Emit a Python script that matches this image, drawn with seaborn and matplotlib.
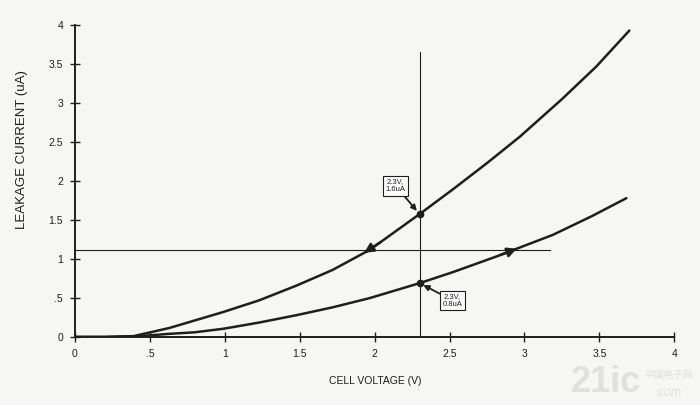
import numpy as np
import pandas as pd
import seaborn as sns
import matplotlib.pyplot as plt

# curve readings (cell voltage V, leakage current uA)
upper_v = [0.0, 0.2, 0.39, 0.63, 0.99, 1.23, 1.48, 1.72, 1.97, 2.31, 2.52, 2.75,
           2.97, 3.25, 3.48, 3.70]
upper_i = [0.0, 0.0, 0.01, 0.115, 0.32, 0.47, 0.66, 0.86, 1.12, 1.59, 1.89, 2.23,
           2.57, 3.05, 3.47, 3.93]
lower_v = [0.0, 0.2, 0.43, 0.63, 0.8, 0.99, 1.23, 1.48, 1.72, 1.97, 2.30, 2.52,
           2.81, 3.19, 3.45, 3.68]
lower_i = [0.0, 0.0, 0.01, 0.04, 0.06, 0.105, 0.185, 0.28, 0.38, 0.50, 0.69, 0.83,
           1.03, 1.31, 1.55, 1.78]

h_level = 1.11      # horizontal reference line
h_end = 3.17
v_level = 2.3       # vertical reference line
v_top = 3.65

upper_label = "2.3V,\n1.6uA"
lower_label = "2.3V,\n0.8uA"

x_ticks = [0, 0.5, 1, 1.5, 2, 2.5, 3, 3.5, 4]
x_labels = ["0", ".5", "1", "1.5", "2", "2.5", "3", "3.5", "4"]
y_ticks = [0, 0.5, 1, 1.5, 2, 2.5, 3, 3.5, 4]
y_labels = ["0", ".5", "1", "1.5", "2", "2.5", "3", "3.5", "4"]

df = pd.concat([
    pd.DataFrame({"V": upper_v, "I": upper_i, "curve": "upper"}),
    pd.DataFrame({"V": lower_v, "I": lower_i, "curve": "lower"}),
])

sns.set_style("ticks")
plt.rcParams["font.family"] = ["Liberation Sans", "Noto Sans CJK SC", "DejaVu Sans"]
ink = "#1e1e1e"
paper = "#f6f6f4"

fig = plt.figure(figsize=(7, 4.05), dpi=100, facecolor=paper)
ax = fig.add_axes([0.107, 0.168, 0.867, 0.770], facecolor=paper)

sns.lineplot(data=df, x="V", y="I", units="curve", estimator=None, color=ink,
             lw=1.8, ax=ax, sort=False)
for ln in ax.lines:
    ln.set_solid_joinstyle("round")

ax.plot([0, h_end], [h_level, h_level], color=ink, lw=0.8)
ax.plot([v_level, v_level], [0, v_top], color=ink, lw=0.8)

# marked points at 2.3 V
up_pt = np.interp(v_level, upper_v, upper_i)
lo_pt = np.interp(v_level, lower_v, lower_i)
ax.plot([v_level, v_level], [up_pt, lo_pt], "o", color=ink, ms=4.5, ls="none")

# arrowheads where the horizontal line meets the curves
def cross(vs, is_):
    return np.interp(h_level, is_, vs)

head = dict(arrowstyle="-|>,head_length=0.55,head_width=0.28", color=ink,
            lw=1.8, shrinkA=0, shrinkB=0)
tip = cross(upper_v, upper_i)
ax.annotate("", xy=(tip - 0.03, np.interp(tip - 0.03, upper_v, upper_i)),
            xytext=(tip + 0.08, np.interp(tip + 0.08, upper_v, upper_i)),
            arrowprops=head)
tip = cross(lower_v, lower_i)
ax.annotate("", xy=(tip + 0.03, np.interp(tip + 0.03, lower_v, lower_i)),
            xytext=(tip - 0.08, np.interp(tip - 0.08, lower_v, lower_i)),
            arrowprops=head)

box = dict(boxstyle="square,pad=0.3", fc="white", ec=ink, lw=0.8)
ptr = dict(arrowstyle="-|>,head_length=0.6,head_width=0.3", color=ink, lw=1.3,
           shrinkA=0, shrinkB=3)
ax.annotate(upper_label, xy=(v_level, up_pt), xytext=(2.14, 1.94),
            fontsize=5.5, ha="center", va="center", bbox=box, arrowprops=ptr,
            color=ink)
ax.annotate(lower_label, xy=(v_level, lo_pt), xytext=(2.52, 0.47),
            fontsize=5.5, ha="center", va="center", bbox=box, arrowprops=ptr,
            color=ink)

ax.set_xlim(0, 4.05)
ax.set_ylim(0, 4.0)
ax.set_xticks(x_ticks, x_labels)
ax.set_yticks(y_ticks, y_labels)
ax.tick_params(direction="inout", length=7, width=1, colors=ink, labelsize=7.5,
               pad=5)
for s in ["top", "right"]:
    ax.spines[s].set_visible(False)
for s in ["left", "bottom"]:
    ax.spines[s].set_linewidth(1.4)
    ax.spines[s].set_color(ink)
    ax.spines[s].set_bounds(0, 4)

ax.set_xlabel("CELL VOLTAGE (V)", fontsize=7.5, color=ink)
ax.xaxis.set_label_coords(0.495, -0.125)
ax.set_ylabel("LEAKAGE CURRENT (uA)", fontsize=9.5, color=ink)
ax.yaxis.set_label_coords(-0.077, 0.6)

# watermark
fig.text(0.865, 0.012, "21ic", fontsize=26, color="#e0e0e0", weight="bold",
         ha="center", va="bottom", zorder=0)
fig.text(0.955, 0.062, "中国电子网", fontsize=7, color="#e0e0e0", ha="center",
         va="bottom", zorder=0)
fig.text(0.955, 0.015, ".com", fontsize=9, color="#e0e0e0", ha="center",
         va="bottom", style="italic", zorder=0)

fig.savefig("out.png", dpi=100, facecolor=paper)
